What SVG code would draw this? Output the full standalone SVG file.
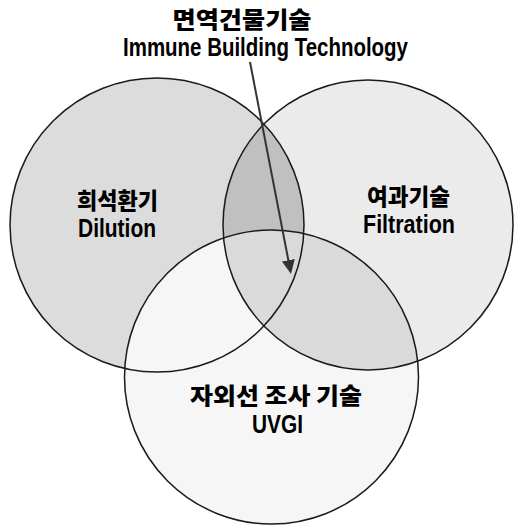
<svg xmlns="http://www.w3.org/2000/svg" width="515" height="526" viewBox="0 0 515 526">
<style>
.ko{font-family:"Noto Sans CJK KR","Liberation Sans",sans-serif;font-weight:900;fill:#000;text-anchor:middle;font-size:23px}
.en{font-family:"Liberation Sans",Arial,sans-serif;font-weight:bold;fill:#000;text-anchor:middle;font-size:25px}
.ring{fill:none;stroke:#1a1a1a;stroke-width:1.5}
.conn{stroke:#333;stroke-width:2;fill:none}
</style>
<defs>
<clipPath id="clipL"><circle cx="157" cy="225" r="147"/></clipPath>
<clipPath id="clipR"><circle cx="368" cy="225" r="145"/></clipPath>
<marker id="ah" markerUnits="userSpaceOnUse" markerWidth="14" markerHeight="13" refX="6" refY="6.5" orient="auto">
<path d="M0,0 L14,6.5 L0,13 z" fill="#333"/>
</marker>
</defs>
<rect width="515" height="526" fill="#fff"/>
<g id="fills">
<circle cx="157" cy="225" r="147" fill="#dcdcdc"/>
<circle cx="368" cy="225" r="145" fill="#ebebeb"/>
<circle cx="368" cy="225" r="145" fill="#c0c0c0" clip-path="url(#clipL)"/>
<circle cx="271.5" cy="377" r="147" fill="#f6f6f6"/>
<circle cx="271.5" cy="377" r="147" fill="#dadada" clip-path="url(#clipR)"/>
</g>
<g id="dilution">
<circle class="ring" cx="157" cy="225" r="147"/>
<text class="ko" x="117.5" y="209" textLength="81" lengthAdjust="spacingAndGlyphs">희석환기</text>
<text class="en" x="117" y="237" textLength="78" lengthAdjust="spacingAndGlyphs">Dilution</text>
</g>
<g id="filtration">
<circle class="ring" cx="368" cy="225" r="145"/>
<text class="ko" x="408.5" y="205" textLength="83" lengthAdjust="spacingAndGlyphs">여과기술</text>
<text class="en" x="409" y="233" textLength="92" lengthAdjust="spacingAndGlyphs">Filtration</text>
</g>
<g id="uvgi">
<circle class="ring" cx="271.5" cy="377" r="147"/>
<text class="ko" x="276" y="404" textLength="172" lengthAdjust="spacingAndGlyphs">자외선 조사 기술</text>
<text class="en" x="277.5" y="433" textLength="51" lengthAdjust="spacingAndGlyphs">UVGI</text>
</g>
<g id="title">
<text class="ko" x="242" y="28" textLength="139" lengthAdjust="spacingAndGlyphs">면역건물기술</text>
<text class="en" x="265.5" y="56" textLength="285" lengthAdjust="spacingAndGlyphs">Immune Building Technology</text>
</g>
<g id="connectors">
<path class="conn" d="M250,62 L289.5,266.1" marker-end="url(#ah)"/>
</g>
</svg>
